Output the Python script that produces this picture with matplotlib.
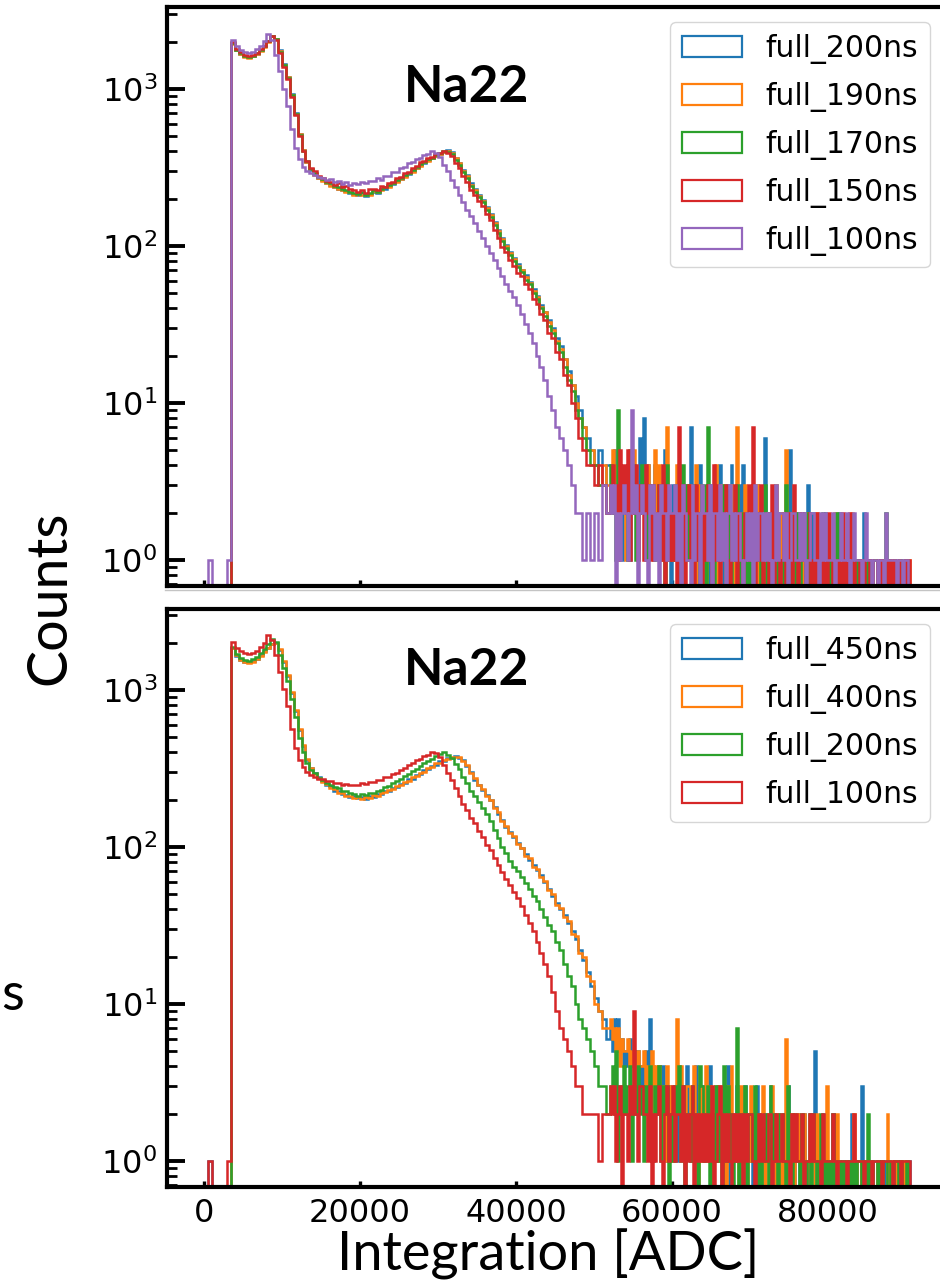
import numpy as np
import matplotlib.pyplot as plt
from matplotlib.lines import Line2D

# binning: 500 ADC bins up to 52000, finer 250 ADC bins for the sparse tail
BODY_BIN = 500
TAIL_BIN = 250
BODY_END = 52000
TAIL_END = 90500

# ---------------- top panel (counts per bin) ----------------
top_labels = ["full_200ns", "full_190ns", "full_170ns", "full_150ns", "full_100ns"]
top_colors = ["tab:blue", "tab:orange", "tab:green", "tab:red", "tab:purple"]

body_200 = [0, 0, 0, 0, 0, 0, 0, 1950, 1770, 1680,
            1610, 1590, 1620, 1680, 1760, 1870, 2010, 2170, 2090, 1760,
            1450, 1200, 930, 700, 520, 410, 345, 305, 288, 270,
            262, 250, 244, 236, 232, 228, 224, 219, 214, 210,
            216, 209, 214, 222, 218, 229, 232, 240, 247, 258,
            266, 279, 288, 300, 314, 326, 340, 352, 362, 376,
            386, 398, 410, 396, 366, 340, 306, 282, 250, 230,
            212, 196, 178, 160, 142, 126, 112, 101, 92, 84,
            77, 70, 65, 59, 53, 48, 42, 38, 34, 30,
            26, 23, 19, 16, 13, 11, 9, 7, 6, 5,
            4, 5, 3, 4]
body_190 = [0, 0, 0, 0, 0, 0, 0, 1940, 1760, 1670,
            1600, 1580, 1610, 1670, 1750, 1860, 2000, 2160, 2080, 1740,
            1430, 1190, 920, 690, 515, 408, 342, 308, 285, 272,
            260, 252, 241, 238, 230, 226, 221, 220, 212, 214,
            211, 215, 212, 224, 220, 226, 236, 238, 250, 255,
            268, 276, 290, 298, 316, 324, 342, 350, 366, 372,
            388, 394, 404, 390, 362, 336, 300, 280, 246, 228,
            208, 194, 174, 158, 140, 124, 110, 100, 90, 83,
            75, 70, 63, 58, 52, 47, 41, 38, 33, 29,
            25, 22, 19, 15, 13, 10, 8, 7, 5, 5,
            4, 3, 4, 3]
body_170 = [0, 0, 0, 0, 0, 0, 0, 1960, 1780, 1690,
            1620, 1590, 1630, 1690, 1770, 1880, 2020, 2170, 2070, 1730,
            1420, 1180, 910, 690, 510, 405, 346, 310, 292, 276,
            266, 254, 250, 240, 236, 230, 226, 222, 218, 215,
            220, 212, 219, 226, 222, 232, 236, 244, 250, 262,
            270, 284, 292, 306, 318, 332, 344, 356, 366, 380,
            390, 404, 398, 384, 352, 328, 294, 272, 240, 222,
            204, 190, 170, 154, 136, 121, 107, 97, 88, 80,
            73, 68, 61, 57, 50, 46, 40, 36, 31, 28,
            24, 21, 17, 14, 12, 9, 8, 6, 5, 4,
            4, 3, 3, 2]
body_150 = [0, 0, 0, 0, 0, 0, 0, 1980, 1800, 1710,
            1640, 1610, 1650, 1700, 1790, 1890, 2030, 2180, 2060, 1700,
            1390, 1160, 890, 680, 500, 402, 348, 312, 300, 281,
            272, 259, 256, 244, 250, 236, 240, 229, 226, 221,
            228, 218, 229, 232, 226, 241, 238, 250, 257, 270,
            275, 292, 296, 315, 322, 341, 348, 364, 371, 385,
            392, 402, 392, 372, 336, 314, 278, 255, 226, 212,
            193, 181, 160, 146, 127, 113, 99, 91, 81, 75,
            67, 64, 57, 53, 46, 43, 37, 34, 28, 26,
            21, 19, 15, 13, 10, 8, 6, 5, 4, 4,
            3, 4, 3, 2]
body_100 = [0, 1, 0, 0, 0, 0, 1, 2050, 1880, 1780,
            1720, 1700, 1730, 1790, 1890, 2010, 2230, 2060, 1650, 1300,
            1000, 780, 560, 420, 356, 320, 302, 290, 282, 275,
            272, 262, 266, 255, 258, 249, 254, 246, 252, 247,
            255, 251, 261, 258, 270, 265, 280, 278, 294, 297,
            312, 318, 336, 341, 358, 364, 382, 384, 401, 393,
            370, 330, 300, 265, 238, 210, 190, 170, 155, 140,
            125, 112, 100, 90, 81, 72, 64, 57, 52, 47,
            42, 37, 32, 28, 24, 20, 17, 14, 11, 9,
            7, 6, 5, 4, 3, 2, 2, 1, 2, 1,
            2, 1, 3, 2]

tail_200 = """43524313 24153226 38242314 23125320 31240213 27132041 12303212 41023142
20314102 12031026 10210312 01205102 10120310 21010120 10101201 01010010
10201010 01001011 00101001 10"""
tail_190 = """35241432 14325213 23142315 24132712 12403121 31214031 20312140 13201231
07120301 20130120 11020310 20512010 12010201 01201010 01020110 10012010
01001001 10010100 01100010 01"""
tail_170 = """42319423 31524132 42213321 13230412 21302413 12031203 30721012 21302102
13021020 10212013 02101201 10310120 21001201 10101201 01102010 10010101
00101001 10100201 00101010 10"""
tail_150 = """34231524 25132413 31423132 23140312 12071302 31203120 21320413 02131021
30210213 17021301 20130210 12021031 01210120 10201010 21010102 01020100
10100110 01010010 10101001 01"""
tail_100 = """32302123 21292302 32103231 20322132 23120321 10312203 22130221 31202312
12210121 20312212 12101312 21201221 12120112 21102121 11201121 12101211
10121101 10110211 11101101 10"""

# ---------------- bottom panel ----------------
bot_labels = ["full_450ns", "full_400ns", "full_200ns", "full_100ns"]
bot_colors = ["tab:blue", "tab:orange", "tab:green", "tab:red"]

body_b450 = [0, 1, 0, 0, 0, 0, 0, 1850, 1650, 1560,
             1510, 1500, 1520, 1580, 1660, 1760, 1850, 1960, 2000, 1800,
             1500, 1220, 960, 740, 560, 440, 360, 320, 295, 278,
             264, 248, 243, 229, 227, 216, 215, 207, 210, 204,
             207, 203, 210, 209, 217, 218, 228, 227, 239, 240,
             253, 255, 270, 273, 288, 292, 309, 312, 330, 335,
             351, 354, 369, 371, 380, 368, 357, 327, 302, 269,
             250, 232, 215, 198, 180, 163, 148, 135, 124, 115,
             106, 98, 90, 83, 77, 71, 66, 60, 54, 49,
             44, 40, 37, 33, 29, 26, 22, 19, 16, 13,
             11, 9, 8, 6]
body_b400 = [0, 0, 0, 0, 0, 0, 0, 1860, 1660, 1550,
             1500, 1490, 1510, 1570, 1650, 1750, 1840, 1950, 1990, 1820,
             1520, 1240, 975, 750, 566, 445, 362, 318, 292, 275,
             259, 252, 238, 234, 222, 220, 211, 212, 205, 208,
             203, 208, 205, 214, 212, 222, 223, 232, 234, 246,
             248, 261, 264, 279, 283, 298, 302, 319, 324, 341,
             345, 360, 363, 376, 375, 375, 352, 333, 296, 275,
             247, 235, 212, 200, 178, 166, 146, 137, 122, 117,
             104, 99, 88, 85, 75, 72, 64, 61, 53, 50,
             43, 41, 36, 34, 28, 27, 21, 20, 15, 14,
             10, 9, 7, 7]
body_b200 = [0, 0, 0, 0, 0, 0, 0, 1880, 1700, 1610,
             1560, 1540, 1570, 1630, 1720, 1830, 1970, 2100, 2010, 1680,
             1380, 1140, 880, 670, 495, 400, 345, 310, 294, 276,
             266, 255, 248, 240, 236, 228, 226, 220, 218, 212,
             218, 214, 220, 222, 228, 232, 240, 246, 254, 264,
             272, 284, 292, 306, 316, 330, 342, 354, 364, 378,
             390, 402, 384, 370, 340, 312, 280, 256, 228, 210,
             194, 178, 162, 146, 128, 114, 100, 91, 82, 75,
             70, 64, 59, 54, 49, 45, 40, 36, 32, 29,
             25, 22, 18, 15, 13, 10, 8, 7, 6, 5,
             4, 3, 3, 2]
body_b100 = [0, 1, 0, 0, 0, 0, 1, 2020, 1860, 1770,
             1710, 1690, 1720, 1780, 1880, 2000, 2230, 2070, 1660, 1310,
             1010, 790, 565, 425, 358, 322, 300, 288, 280, 272,
             270, 263, 265, 257, 256, 250, 252, 247, 250, 249,
             254, 252, 259, 260, 268, 268, 278, 280, 292, 298,
             311, 319, 334, 343, 357, 366, 380, 386, 403, 396,
             372, 332, 298, 268, 236, 212, 188, 172, 153, 142,
             126, 116, 103, 95, 85, 77, 69, 63, 57, 52,
             47, 42, 37, 33, 29, 25, 21, 18, 15, 12,
             9, 7, 6, 5, 4, 3, 3, 2, 2, 2,
             2, 1, 2, 2]

tail_b450 = """75868564 54645453 43548342 34243132 23142314 21324132 31240213 12314021
23120312 10231201 21302120 12031201 20121012 15010201 01201010 10102010
03101001 10010100 01010010 01"""
tail_b400 = """86757465 56454354 45343524 34231423 12834213 32142031 24130231 31203142
12031201 31202130 12031020 10610201 21020110 01201013 10102010 01010201
10010100 01010020 10100101 00"""
tail_b200 = """34251324 23413242 31324213 24132302 13241302 21312043 12302131 20413120
17021302 21302012 10312102 21031021 10210120 21012010 10201101 01010101
10102010 01010011 00110100 10"""
tail_b100 = """32312302 21329213 32213021 23102312 31221302 12302121 21213012 30212102
12120212 21012121 12201211 21110212 11201121 21110211 11210111 10111211
11011101 11101111 10111011 11"""

edges = np.concatenate([np.arange(0, BODY_END + 1, BODY_BIN),
                        np.arange(BODY_END + TAIL_BIN, TAIL_END + 1, TAIL_BIN)])


def counts(body, tail):
    t = [int(c) for c in "".join(tail.split())]
    vals = np.array(body + t, dtype=float)
    assert len(vals) == len(edges) - 1, (len(body), len(t))
    return vals


top_series = [counts(body_200, tail_200), counts(body_190, tail_190),
              counts(body_170, tail_170), counts(body_150, tail_150),
              counts(body_100, tail_100)]
bot_series = [counts(body_b450, tail_b450), counts(body_b400, tail_b400),
              counts(body_b200, tail_b200), counts(body_b100, tail_b100)]

fig = plt.figure(figsize=(9.4, 12.81), dpi=100)
W, H = 940.0, 1281.0
ax_top = fig.add_axes([167 / W, 1 - 586 / H, 778 / W, 579 / H])
ax_bot = fig.add_axes([167 / W, 1 - 1187 / H, 778 / W, 578 / H])


def draw(ax, series, labels, colors, ylim):
    for vals, lab, col in zip(series, labels, colors):
        ax.hist(edges[:-1], bins=edges, weights=vals, histtype="step",
                log=True, color=col, lw=1.8, label=lab)
    ax.set_xlim(-4744, 95000)
    ax.set_ylim(*ylim)
    ax.set_xticks([0, 20000, 40000, 60000, 80000])
    for s in ax.spines.values():
        s.set_linewidth(3)
    ax.tick_params(axis="y", which="major", direction="in", length=13,
                   width=2.8, labelsize=23, pad=7)
    ax.tick_params(axis="y", which="minor", direction="in", length=7, width=2)
    ax.tick_params(axis="x", which="major", direction="in", length=4.5,
                   width=2.4, labelsize=23, pad=8)
    leg = ax.legend(loc="upper right", fontsize=21.5, labelspacing=0.6)
    for h in leg.legend_handles:
        h.set_linewidth(1.6)


draw(ax_top, top_series, top_labels, top_colors, (0.683, 3327))
draw(ax_bot, bot_series, bot_labels, bot_colors, (0.683, 3280))
ax_top.tick_params(axis="x", labelbottom=False)

txt_font = "Lato"
fig.text(467 / W, 1 - 102 / H, "Na22", ha="center", va="baseline",
         fontsize=37, fontweight="bold", family=txt_font)
fig.text(467 / W, 1 - 685 / H, "Na22", ha="center", va="baseline",
         fontsize=37, fontweight="bold", family=txt_font)
fig.text(50 / W, 1 - 598 / H, "Counts", rotation=90, ha="center", va="center",
         fontsize=40, family=txt_font)
fig.text(548 / W, 1 - 1270 / H, "Integration [ADC]", ha="center", va="baseline",
         fontsize=39, family=txt_font)
fig.text(1 / W, 1 - 1010 / H, "s", ha="left", va="baseline",
         fontsize=38, family=txt_font)

fig.add_artist(Line2D([165 / W, 1.0], [1 - 590 / H, 1 - 590 / H],
                      color="#c4c4c4", lw=1))

fig.savefig("out.png", dpi=100)
